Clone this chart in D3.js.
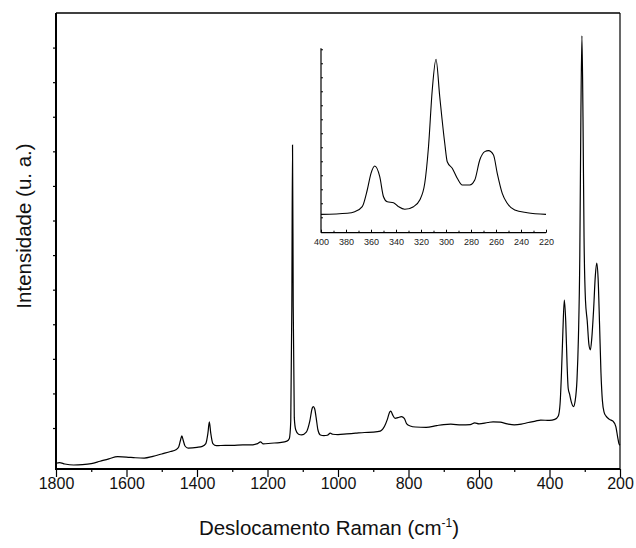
<!DOCTYPE html>
<html>
<head>
<meta charset="utf-8">
<script src="https://cdn.jsdelivr.net/npm/d3@7"></script>
<style>
  body { margin: 0; background: white; font-family: Arial, "Liberation Sans", Helvetica, sans-serif; }
  svg { display: block; }
</style>
</head>
<body>
<svg id="chart"></svg>
<script>
// main spectrum: Raman shift (cm-1) and intensity (a.u.)
let shift = [1800, 1790, 1775, 1750, 1725, 1700, 1675, 1650, 1625, 1600, 1575, 1550, 1525, 1500, 1475, 1460,
  1452, 1447, 1443, 1439, 1434, 1425, 1400, 1385, 1375, 1369, 1365, 1361, 1355, 1345, 1320, 1300, 1270, 1250,
  1228, 1220, 1212, 1190, 1165, 1145, 1138, 1134, 1131, 1129, 1127, 1124, 1120, 1112, 1103, 1090, 1080, 1073,
  1070, 1066, 1062, 1057, 1050, 1040, 1030, 1022, 1015, 1000, 975, 950, 925, 900, 880, 868, 860, 853, 850,
  845, 838, 830, 820, 812, 805, 795, 780, 750, 720, 700, 680, 650, 625, 612, 600, 575, 560, 540, 520, 500,
  480, 460, 440, 425, 400, 385, 375, 370, 366, 362, 358, 354, 350, 347, 343, 338, 332, 327, 322, 318, 314,
  311, 308, 305, 302, 298, 293, 288, 284, 280, 275, 270, 266, 262, 258, 254, 250, 245, 240, 230, 220, 212,
  206, 203, 200];
let intensity = [-1.02, -1.00, -1.04, -1.07, -1.06, -1.03, -0.96, -0.89, -0.83, -0.84, -0.86, -0.87, -0.82, -0.75, -0.68, -0.63,
  -0.55, -0.36, -0.23, -0.36, -0.52, -0.58, -0.56, -0.53, -0.45, -0.15, 0.18, -0.15, -0.45, -0.51, -0.50, -0.50, -0.49, -0.49,
  -0.45, -0.40, -0.46, -0.44, -0.42, -0.38, -0.30, 0.20, 3.50, 8.18, 3.50, 0.30, -0.05, -0.18, -0.20, -0.12, 0.20, 0.58,
  0.62, 0.55, 0.30, -0.05, -0.20, -0.22, -0.21, -0.15, -0.18, -0.19, -0.17, -0.15, -0.13, -0.12, -0.09, 0.05, 0.25, 0.47, 0.49,
  0.38, 0.28, 0.30, 0.33, 0.28, 0.12, 0.06, 0.03, 0.02, 0.07, 0.10, 0.11, 0.09, 0.10, 0.15, 0.12, 0.16, 0.18, 0.17, 0.12, 0.09,
  0.11, 0.16, 0.20, 0.23, 0.22, 0.25, 0.35, 0.70, 1.60, 2.80, 3.70, 3.10, 1.80, 1.15, 0.98, 0.75, 0.62, 0.80, 1.40, 2.60, 5.00,
  9.00, 11.34, 9.00, 5.50, 3.70, 3.10, 2.40, 2.26, 2.60, 3.40, 4.40, 4.77, 4.30, 3.00, 1.60, 0.80, 0.45, 0.35, 0.25, 0.20, 0.05,
  -0.30, -0.45, -0.50];

// inset: zoom on 400-220 cm-1
let insetShift = [400, 379, 373, 367, 363, 360, 357, 353, 350, 347, 342, 338, 333, 326, 321, 317, 314, 311, 308,
  305, 301, 299, 295, 291, 287, 281, 277, 273, 269, 266, 262, 259, 255, 251, 245, 235, 220];
let insetIntensity = [0.21, 0.29, 0.40, 0.76, 1.95, 3.14, 3.66, 2.90, 1.47, 1.11, 1.04, 0.76, 0.57, 0.76, 1.24, 2.43, 5.04, 9.09, 11.29,
  8.61, 5.29, 3.97, 3.50, 2.79, 2.31, 2.31, 2.66, 4.09, 4.69, 4.76, 4.45, 3.14, 1.71, 1.00, 0.52, 0.33, 0.21];

let xMajor = [1800, 1600, 1400, 1200, 1000, 800, 600, 400, 200];
let xMinor = [1700, 1500, 1300, 1100, 900, 700, 500, 300];
let yTicks = [0, 1, 2, 3, 4, 5, 6, 7, 8, 9, 10, 11];
let insetMajor = [400, 380, 360, 340, 320, 300, 280, 260, 240, 220];
let insetMinor = [390, 370, 350, 330, 310, 290, 270, 250, 230];
let insetYTicks = [0, 1, 2, 3, 4, 5, 6, 7, 8, 9, 10, 11, 12];

let width = 636, height = 548;
let margin = { top: 13, right: 16, bottom: 79, left: 56 };

let svg = d3.select("#chart").attr("width", width).attr("height", height);
svg.append("rect").attr("width", width).attr("height", height).attr("fill", "white");

let x = d3.scaleLinear().domain([1800, 200]).range([margin.left, width - margin.right]);
let y = d3.scaleLinear().domain([-1.185, 12]).range([height - margin.bottom, margin.top]);

let spectrum = shift.map((s, i) => ({ s: s, v: intensity[i] }));
let insetData = insetShift.map((s, i) => ({ s: s, v: insetIntensity[i] }));

// main curve
let line = d3.line().x(d => x(d.s)).y(d => y(d.v)).curve(d3.curveMonotoneX);
svg.append("path").datum(spectrum)
  .attr("d", line)
  .attr("fill", "none")
  .attr("stroke", "black")
  .attr("stroke-width", 1.2);

// frame: thin top/right, thick left/bottom
let x0 = x(1800), x1 = x(200), yT = y(12), yB = y(-1.185);
svg.append("line").attr("x1", x0).attr("x2", x1).attr("y1", yT).attr("y2", yT).attr("stroke", "black").attr("stroke-width", 1.3);
svg.append("line").attr("x1", x1).attr("x2", x1).attr("y1", yT).attr("y2", yB).attr("stroke", "black").attr("stroke-width", 1.2);

let gx = svg.append("g").attr("transform", `translate(0,${yB})`)
  .call(d3.axisBottom(x).tickValues(xMajor).tickSize(8).tickPadding(1).tickFormat(d3.format("d")));
let gxm = svg.append("g").attr("transform", `translate(0,${yB})`)
  .call(d3.axisBottom(x).tickValues(xMinor).tickSize(3).tickFormat(""));
let gy = svg.append("g").attr("transform", `translate(${x0},0)`)
  .call(d3.axisLeft(y).tickValues(yTicks).tickSize(3).tickFormat(""));

[gx, gxm, gy].forEach(g => {
  g.select(".domain").remove();
  g.selectAll(".tick line").attr("stroke", "black").attr("stroke-width", 1.2);
});
gx.selectAll("text").attr("fill", "#111").style("font-size", "16px")
  .style("font-family", "Arial, 'Liberation Sans', sans-serif");

svg.append("line").attr("x1", x0 - 1).attr("x2", x1).attr("y1", yB).attr("y2", yB).attr("stroke", "black").attr("stroke-width", 2);
svg.append("line").attr("x1", x0).attr("x2", x0).attr("y1", yT).attr("y2", yB + 1).attr("stroke", "black").attr("stroke-width", 2);

// axis titles
let xt = svg.append("text")
  .attr("x", 329).attr("y", 535)
  .attr("text-anchor", "middle")
  .attr("fill", "#111")
  .style("font-size", "20.5px");
xt.append("tspan").text("Deslocamento Raman (cm");
xt.append("tspan").attr("dy", -8).style("font-size", "12px").text("-1");
xt.append("tspan").attr("dy", 8).text(")");

svg.append("text")
  .attr("transform", "translate(31,226) rotate(-90)")
  .attr("text-anchor", "middle")
  .attr("fill", "#111")
  .style("font-size", "20.5px")
  .text("Intensidade (u. a.)");

// inset
let xi = d3.scaleLinear().domain([400, 220]).range([321, 546]);
let yi = d3.scaleLinear().domain([-1.1, 12.07]).range([232.7, 48.3]);

let insetLine = d3.line().x(d => xi(d.s)).y(d => yi(d.v)).curve(d3.curveMonotoneX);
svg.append("path").datum(insetData)
  .attr("d", insetLine)
  .attr("fill", "none")
  .attr("stroke", "black")
  .attr("stroke-width", 1.1);

let gix = svg.append("g").attr("transform", `translate(0,${yi(-1.1)})`)
  .call(d3.axisBottom(xi).tickValues(insetMajor).tickSize(-3).tickPadding(6).tickFormat(d3.format("d")));
let gixm = svg.append("g").attr("transform", `translate(0,${yi(-1.1)})`)
  .call(d3.axisBottom(xi).tickValues(insetMinor).tickSize(-2).tickFormat(""));
let giy = svg.append("g").attr("transform", `translate(${xi(400)},0)`)
  .call(d3.axisLeft(yi).tickValues(insetYTicks).tickSize(-2).tickFormat(""));

[gix, gixm, giy].forEach(g => {
  g.select(".domain").remove();
  g.selectAll(".tick line").attr("stroke", "black").attr("stroke-width", 1);
});
gix.selectAll("text").attr("fill", "#222").style("font-size", "9px")
  .style("font-family", "Arial, 'Liberation Sans', sans-serif");

svg.append("line").attr("x1", xi(400)).attr("x2", xi(220)).attr("y1", yi(-1.1)).attr("y2", yi(-1.1)).attr("stroke", "black").attr("stroke-width", 1.2);
svg.append("line").attr("x1", xi(400)).attr("x2", xi(400)).attr("y1", yi(12.07)).attr("y2", yi(-1.1)).attr("stroke", "black").attr("stroke-width", 1.2);
</script>
</body>
</html>
